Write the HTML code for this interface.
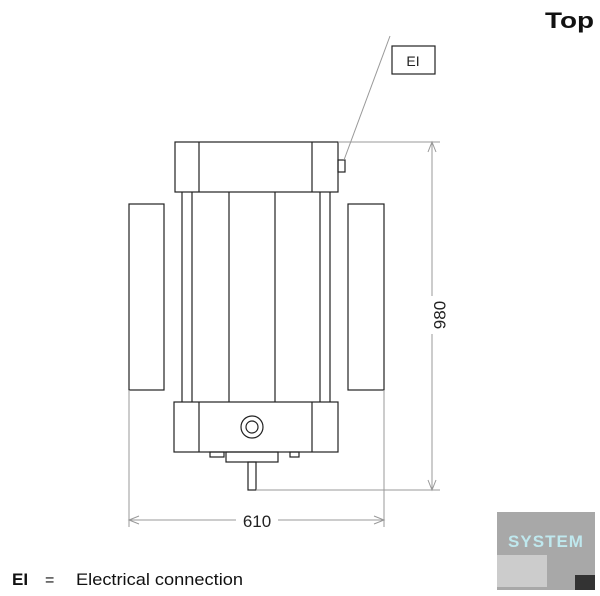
<!DOCTYPE html>
<html><head><style>
body{margin:0;background:#fff;width:600px;height:596px;overflow:hidden;position:relative;font-family:"Liberation Sans",sans-serif}
</style></head><body>
<svg width="600" height="596" style="position:absolute;left:0;top:0">
<g fill="none" stroke="#222" stroke-width="1.2">
<rect x="175" y="142" width="163" height="50"/>
<line x1="199" y1="142" x2="199" y2="192"/><line x1="312" y1="142" x2="312" y2="192"/>
<rect x="338" y="160" width="7" height="12"/>
<line x1="182" y1="192" x2="182" y2="402"/><line x1="192" y1="192" x2="192" y2="402"/>
<line x1="229" y1="192" x2="229" y2="402"/><line x1="275" y1="192" x2="275" y2="402"/>
<line x1="320" y1="192" x2="320" y2="402"/><line x1="330" y1="192" x2="330" y2="402"/>
<rect x="129" y="204" width="35" height="186"/>
<rect x="348" y="204" width="36" height="186"/>
<rect x="174" y="402" width="164" height="50"/>
<line x1="199" y1="402" x2="199" y2="452"/><line x1="312" y1="402" x2="312" y2="452"/>
<circle cx="252" cy="427" r="11"/><circle cx="252" cy="427" r="6"/>
<rect x="226" y="452" width="52" height="10"/>
<rect x="210" y="452" width="14" height="5"/><rect x="290" y="452" width="9" height="5"/>
<rect x="248" y="462" width="8" height="28"/>
<rect x="392" y="46" width="43" height="28"/>
</g>
<g stroke="#999" stroke-width="1" fill="none">
<line x1="338" y1="142" x2="440" y2="142"/><line x1="256" y1="490" x2="440" y2="490"/>
<line x1="129" y1="390" x2="129" y2="527"/><line x1="384" y1="390" x2="384" y2="527"/>
<line x1="390" y1="36" x2="344" y2="160"/>
<line x1="432" y1="142" x2="432" y2="490"/>
<line x1="129" y1="520" x2="384" y2="520"/>
<path d="M428 152 L432 142 L436 152 M428 480 L432 490 L436 480 M139 516 L129 520 L139 524 M374 516 L384 520 L374 524"/>
</g>
<rect x="420" y="296" width="24" height="38" fill="#fff"/>
<text x="441" y="315" font-size="17" fill="#222" text-anchor="middle" transform="rotate(-90 441 315)" dominant-baseline="middle">980</text>
<rect x="236" y="510" width="42" height="20" fill="#fff"/>
<text x="257" y="527" font-size="17" fill="#222" text-anchor="middle">610</text>
<text x="413" y="66" font-size="14" fill="#222" text-anchor="middle">EI</text>
<text x="545" y="28" font-size="22" font-weight="bold" fill="#111" textLength="49" lengthAdjust="spacingAndGlyphs">Top</text>
<text x="12" y="585" font-size="17" font-weight="bold" fill="#111">EI</text>
<text x="45" y="585" font-size="16" fill="#111">=</text>
<text x="76" y="585" font-size="17" fill="#111" textLength="167" lengthAdjust="spacingAndGlyphs">Electrical connection</text>
<rect x="497" y="512" width="98" height="78" fill="#a8a8a8"/>
<rect x="497" y="555" width="50" height="32" fill="#ccc"/>
<rect x="575" y="575" width="20" height="15" fill="#333"/>
<text x="546" y="547" font-size="17" fill="#bfe8ee" text-anchor="middle" font-weight="bold" letter-spacing="1">SYSTEM</text>
</svg>
</body></html>
